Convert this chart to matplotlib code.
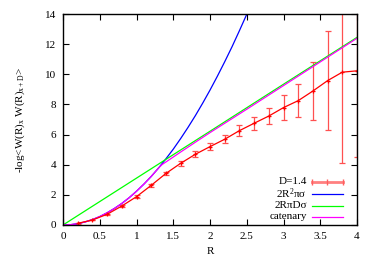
import matplotlib
matplotlib.use("Agg")
import matplotlib.pyplot as plt
from matplotlib.lines import Line2D
import numpy as np

# data
r_data = [0.2, 0.4, 0.6, 0.8, 1.0, 1.2, 1.4, 1.6, 1.8, 2.0,
          2.2, 2.4, 2.6, 2.8, 3.0, 3.2, 3.4, 3.6, 3.8, 4.0]
w_data = [0.11, 0.33, 0.71, 1.26, 1.88, 2.63, 3.42, 4.09, 4.69, 5.20,
          5.69, 6.26, 6.75, 7.23, 7.79, 8.25, 8.89, 9.58, 10.14, 10.23]
w_err = [0.02, 0.03, 0.04, 0.06, 0.08, 0.09, 0.12, 0.15, 0.21, 0.23,
         0.28, 0.35, 0.42, 0.53, 0.83, 1.10, 1.94, 3.30, 6.00, 5.70]

r_area = [0.0, 0.1, 0.2, 0.3, 0.4, 0.5, 0.6, 0.7, 0.8, 0.9, 1.0, 1.1, 1.2,
          1.3, 1.4, 1.5, 1.6, 1.7, 1.8, 1.9, 2.0, 2.1, 2.2, 2.3, 2.4, 2.5, 2.6]
w_area = [0.0, 0.02, 0.09, 0.20, 0.36, 0.56, 0.81, 1.10, 1.43, 1.81, 2.24, 2.71, 3.22,
          3.78, 4.39, 5.03, 5.73, 6.47, 7.25, 8.08, 8.95, 9.87, 10.83, 11.83, 12.89, 13.98, 15.12]

r_perim = [0.0, 1.0, 2.0, 3.0, 4.0]
w_perim = [0.0, 3.11, 6.22, 9.34, 12.45]

r_cat = [0.0, 0.1, 0.2, 0.3, 0.4, 0.5, 0.6, 0.7, 0.8, 0.9, 1.0, 1.1, 1.2, 1.3,
         1.35, 1.4, 1.5, 1.6, 1.8, 2.0, 2.5, 3.0, 3.5, 4.0]
w_cat = [0.0, 0.02, 0.09, 0.20, 0.36, 0.56, 0.81, 1.10, 1.43, 1.81, 2.24, 2.71, 3.22, 3.78,
         4.02, 4.18, 4.51, 4.84, 5.49, 6.13, 7.68, 9.25, 10.82, 12.39]

labels = ['D=1.4', r'2R$^2$πσ', '2RπDσ', 'catenary']
colors = ['#ff0000', '#0000ff', '#00ff00', '#ff00ff']

plt.rcParams['font.family'] = ['Liberation Serif', 'DejaVu Serif']
plt.rcParams['mathtext.fontset'] = 'custom'
plt.rcParams['mathtext.rm'] = 'Liberation Serif'
plt.rcParams['mathtext.it'] = 'Liberation Serif:italic'
plt.rcParams['font.size'] = 8

fig = plt.figure(figsize=(3.74, 2.62), dpi=100)
ax = fig.add_axes([63/374, 1-225/262, 294/374, 211/262])

ax.errorbar(r_data, w_data, yerr=w_err, color=colors[0], ecolor='#ff5050',
            lw=0.9, elinewidth=0.9, capsize=2, capthick=0.9,
            marker='+', ms=3, mew=0.9)
ax.plot(r_area, w_area, color=colors[1], lw=0.9)
ax.plot(r_perim, w_perim, color=colors[2], lw=0.9)
ax.plot(r_cat, w_cat, color=colors[3], lw=0.9)

ax.set_xlim(0, 4)
ax.set_ylim(0, 14)
ax.set_xticks(np.arange(0, 4.01, 0.5))
ax.set_xticklabels(['0', '0.5', '1', '1.5', '2', '2.5', '3', '3.5', '4'])
ax.set_yticks(np.arange(0, 15, 2))
ax.tick_params(direction='in', length=4, width=0.8, top=True, right=True, pad=5)
for s in ax.spines.values():
    s.set_linewidth(1.0)

ax.set_xlabel('R')
ax.set_ylabel(r'-log<W(R)$_\mathrm{x}$ W(R)$_\mathrm{x+D}$>', fontsize=8)
ax.xaxis.set_label_coords(0.5, -0.104)
ax.yaxis.set_label_coords(-0.122, 0.5)

# gnuplot-style key: right aligned text, sample to the right
rows = [0.204, 0.147, 0.092, 0.038]
x0, x1 = 0.847, 0.952
for i, (lab, c, yy) in enumerate(zip(labels, colors, rows)):
    ax.text(0.830, yy, lab, transform=ax.transAxes, ha='right', va='center')
    if i == 0:
        ax.add_line(Line2D([x0, x1], [yy, yy], transform=ax.transAxes,
                           color='#ff8080', lw=2))
        ax.add_line(Line2D([x0, (x0 + x1) / 2, x1], [yy] * 3, transform=ax.transAxes,
                           color='#ff6060', lw=0, marker='|', ms=5, mew=1))
    else:
        ax.add_line(Line2D([x0, x1], [yy, yy], transform=ax.transAxes,
                           color=c, lw=0.9))

fig.savefig('out.png', dpi=100)
